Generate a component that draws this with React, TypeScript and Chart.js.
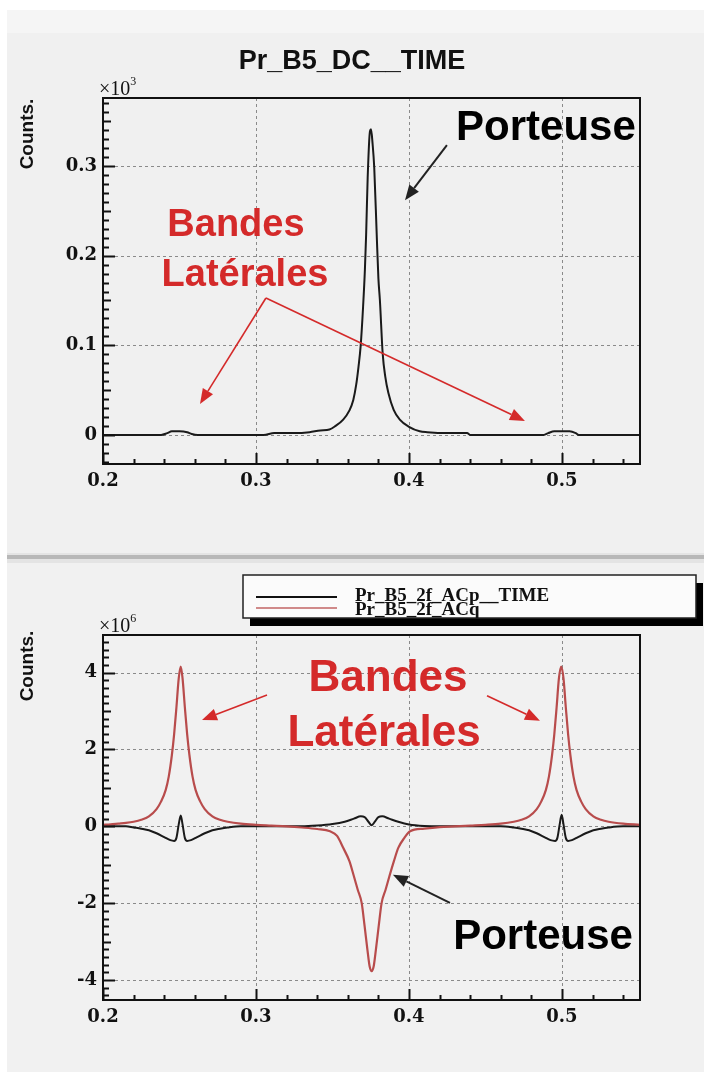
import React, { useEffect, useRef } from 'react';
import { Chart, registerables } from 'chart.js';

Chart.register(...registerables);

// ---------------- data ----------------
// Top panel: Pr_B5_DC__TIME (units of 10^3 counts)
const dcX = [0.200, 0.220, 0.238, 0.242, 0.245, 0.250, 0.255, 0.258, 0.262, 0.280, 0.305, 0.312, 0.325, 0.335, 0.342, 0.348, 0.352, 0.357, 0.361, 0.3636, 0.3655, 0.367, 0.3684, 0.370, 0.3712, 0.372, 0.373, 0.3745, 0.3752, 0.3762, 0.3773, 0.3789, 0.380, 0.381, 0.3828, 0.3845, 0.3865, 0.390, 0.394, 0.400, 0.407, 0.412, 0.425, 0.438, 0.440, 0.488, 0.491, 0.495, 0.500, 0.505, 0.509, 0.511, 0.551];
const dcY = [0, 0, 0, 0.002, 0.004, 0.004, 0.003, 0.001, 0, 0, 0, 0.002, 0.002, 0.003, 0.005, 0.006, 0.010, 0.017, 0.027, 0.039, 0.056, 0.076, 0.099, 0.143, 0.185, 0.224, 0.287, 0.339, 0.341, 0.325, 0.298, 0.224, 0.175, 0.150, 0.091, 0.065, 0.047, 0.028, 0.017, 0.009, 0.004, 0.003, 0.002, 0.002, 0, 0, 0.002, 0.004, 0.004, 0.004, 0.002, 0, 0];

// Bottom panel: Pr_B5_2f_ACp__TIME (black), units of 10^6 counts
const acpX = [0.200, 0.215, 0.220, 0.225, 0.230, 0.235, 0.240, 0.244, 0.2465, 0.248, 0.2495, 0.2508, 0.252, 0.2535, 0.255, 0.2575, 0.2615, 0.2665, 0.2715, 0.2765, 0.2815, 0.290, 0.330, 0.340, 0.350, 0.358, 0.364, 0.3685, 0.371, 0.3735, 0.3756, 0.3777, 0.380, 0.3825, 0.387, 0.393, 0.400, 0.410, 0.420, 0.460, 0.4685, 0.4735, 0.4785, 0.4835, 0.4885, 0.4925, 0.4955, 0.497, 0.4985, 0.4998, 0.501, 0.5025, 0.504, 0.5065, 0.5105, 0.5155, 0.5205, 0.5255, 0.5305, 0.540, 0.551];
const acpY = [0, 0, -0.03, -0.06, -0.10, -0.18, -0.28, -0.36, -0.38, -0.30, 0.05, 0.28, 0.05, -0.30, -0.38, -0.36, -0.28, -0.18, -0.10, -0.06, -0.03, 0, 0, 0.02, 0.06, 0.12, 0.20, 0.26, 0.24, 0.12, 0.03, 0.12, 0.24, 0.26, 0.20, 0.12, 0.05, 0.01, 0, 0, -0.03, -0.06, -0.10, -0.18, -0.28, -0.36, -0.38, -0.30, 0.05, 0.30, 0.05, -0.30, -0.38, -0.36, -0.28, -0.18, -0.10, -0.06, -0.03, 0, 0];

// Bottom panel: Pr_B5_2f_ACq (red), units of 10^6 counts
const acqX = [0.200, 0.205, 0.210, 0.215, 0.220, 0.225, 0.230, 0.235, 0.238, 0.241, 0.243, 0.245, 0.2465, 0.248, 0.2495, 0.2508, 0.252, 0.2535, 0.255, 0.2565, 0.2585, 0.2605, 0.2635, 0.2665, 0.2715, 0.2765, 0.2815, 0.290, 0.300, 0.310, 0.320, 0.330, 0.340, 0.3484, 0.353, 0.357, 0.361, 0.364, 0.3665, 0.3691, 0.371, 0.3728, 0.3743, 0.3756, 0.3769, 0.3784, 0.3802, 0.3821, 0.3847, 0.3872, 0.3902, 0.393, 0.397, 0.4007, 0.410, 0.420, 0.430, 0.440, 0.450, 0.460, 0.4685, 0.4735, 0.4785, 0.4835, 0.4865, 0.4895, 0.4915, 0.4935, 0.495, 0.4965, 0.498, 0.4995, 0.501, 0.5025, 0.504, 0.5055, 0.5075, 0.5095, 0.5125, 0.5155, 0.5205, 0.5255, 0.5305, 0.540, 0.551];
const acqY = [0.04, 0.05, 0.07, 0.09, 0.12, 0.17, 0.26, 0.45, 0.65, 0.95, 1.30, 1.85, 2.40, 3.10, 3.85, 4.16, 3.85, 3.10, 2.40, 1.85, 1.30, 0.95, 0.65, 0.45, 0.26, 0.17, 0.12, 0.07, 0.04, 0.02, 0, -0.03, -0.07, -0.13, -0.25, -0.56, -0.90, -1.30, -1.65, -2.00, -2.60, -3.20, -3.65, -3.77, -3.65, -3.20, -2.60, -2.00, -1.65, -1.30, -0.90, -0.56, -0.30, -0.13, -0.06, -0.02, 0, 0.02, 0.04, 0.07, 0.12, 0.17, 0.26, 0.45, 0.65, 0.95, 1.30, 1.85, 2.40, 3.10, 3.85, 4.16, 3.85, 3.10, 2.40, 1.85, 1.30, 0.95, 0.65, 0.45, 0.26, 0.17, 0.12, 0.07, 0.04];

// axes / ticks
const xTicks = [0.2, 0.3, 0.4, 0.5];
const xTickLabels = ['0.2', '0.3', '0.4', '0.5'];
const topYTicks = [0, 0.1, 0.2, 0.3];
const topYTickLabels = ['0', '0.1', '0.2', '0.3'];
const botYTicks = [-4, -2, 0, 2, 4];
const botYTickLabels = ['-4', '-2', '0', '2', '4'];

// texts
const topTitle = 'Pr_B5_DC__TIME';
const yAxisTitle = 'Counts.';
const topExponent = '3';
const botExponent = '6';
const seriesNames = ['Pr_B5_2f_ACp__TIME', 'Pr_B5_2f_ACq'];
const carrierText = 'Porteuse';
const sidebandLines = ['Bandes', 'Latérales'];

const RED_TEXT = '#d42a2a';
const RED_LINE = '#b84c4c';

type Ann = { text: string; x: number; y: number; color: string; size: number };
type Arr = { x1: number; y1: number; x2: number; y2: number; color: string; lw: number };

const topLabels: Ann[] = [
  { text: carrierText, x: 0.4895, y: 0.342, color: '#000', size: 42 },
  { text: sidebandLines[0], x: 0.2869, y: 0.2342, color: RED_TEXT, size: 38 },
  { text: sidebandLines[1], x: 0.2928, y: 0.1784, color: RED_TEXT, size: 38 },
];
const topArrows: Arr[] = [
  { x1: 0.4248, y1: 0.3234, x2: 0.3974, y2: 0.262, color: '#222', lw: 2 },
  { x1: 0.3065, y1: 0.1528, x2: 0.2634, y2: 0.0346, color: RED_TEXT, lw: 1.6 },
  { x1: 0.3065, y1: 0.1528, x2: 0.4758, y2: 0.0156, color: RED_TEXT, lw: 1.6 },
];
const botLabels: Ann[] = [
  { text: sidebandLines[0], x: 0.3863, y: 3.85, color: RED_TEXT, size: 44 },
  { text: sidebandLines[1], x: 0.3837, y: 2.40, color: RED_TEXT, size: 44 },
  { text: carrierText, x: 0.4876, y: -2.88, color: '#000', size: 42 },
];
const botArrows: Arr[] = [
  { x1: 0.4268, y1: -1.99, x2: 0.3895, y2: -1.26, color: '#222', lw: 2 },
  { x1: 0.3072, y1: 3.42, x2: 0.2647, y2: 2.77, color: RED_TEXT, lw: 1.6 },
  { x1: 0.451, y1: 3.40, x2: 0.4856, y2: 2.75, color: RED_TEXT, lw: 1.6 },
];

function drawArrow(ctx: CanvasRenderingContext2D, x1: number, y1: number, x2: number, y2: number, color: string, lw: number) {
  const ang = Math.atan2(y2 - y1, x2 - x1);
  const headLen = 15;
  const headW = 12;
  const bx = x2 - headLen * Math.cos(ang);
  const by = y2 - headLen * Math.sin(ang);
  ctx.save();
  ctx.strokeStyle = color;
  ctx.fillStyle = color;
  ctx.lineWidth = lw;
  ctx.beginPath();
  ctx.moveTo(x1, y1);
  ctx.lineTo(bx, by);
  ctx.stroke();
  ctx.beginPath();
  ctx.moveTo(x2, y2);
  ctx.lineTo(bx + (headW / 2) * Math.sin(ang), by - (headW / 2) * Math.cos(ang));
  ctx.lineTo(bx - (headW / 2) * Math.sin(ang), by + (headW / 2) * Math.cos(ang));
  ctx.closePath();
  ctx.fill();
  ctx.restore();
}

type DecorCfg = {
  yTicks: number[];
  yMinorStep: number;
  xMinorStep: number;
  labels: Ann[];
  arrows: Arr[];
  exponent: string;
  yTitleCenter: number; // canvas y
  background: (ctx: CanvasRenderingContext2D, w: number, h: number) => void;
  extra: (ctx: CanvasRenderingContext2D) => void;
};

function makeDecor(cfg: DecorCfg) {
  return {
    id: 'decor',
    beforeDraw(chart: any) {
      const ctx = chart.ctx as CanvasRenderingContext2D;
      ctx.save();
      cfg.background(ctx, chart.width, chart.height);
      ctx.restore();
    },
    beforeDatasetsDraw(chart: any) {
      const ctx = chart.ctx as CanvasRenderingContext2D;
      const { left, right, top, bottom } = chart.chartArea;
      const xs = chart.scales.x;
      const ys = chart.scales.y;
      ctx.save();
      ctx.strokeStyle = '#8a8a8a';
      ctx.lineWidth = 1;
      ctx.setLineDash([3, 3]);
      xTicks.forEach((v) => {
        const px = Math.round(xs.getPixelForValue(v)) + 0.5;
        if (px <= left + 2) return;
        ctx.beginPath();
        ctx.moveTo(px, top);
        ctx.lineTo(px, bottom);
        ctx.stroke();
      });
      cfg.yTicks.forEach((v) => {
        const py = Math.round(ys.getPixelForValue(v)) + 0.5;
        ctx.beginPath();
        ctx.moveTo(left, py);
        ctx.lineTo(right, py);
        ctx.stroke();
      });
      ctx.restore();
    },
    afterDatasetsDraw(chart: any) {
      const ctx = chart.ctx as CanvasRenderingContext2D;
      const { left, right, top, bottom } = chart.chartArea;
      const xs = chart.scales.x;
      const ys = chart.scales.y;
      ctx.save();
      ctx.strokeStyle = '#111';
      ctx.lineWidth = 2;
      ctx.strokeRect(left, top, right - left, bottom - top);
      // inward ticks on x axis
      ctx.lineWidth = 2;
      const xMin = xs.min, xMax = xs.max;
      for (let i = 0; ; i++) {
        const v = 0.2 + i * cfg.xMinorStep;
        if (v > xMax + 1e-9) break;
        if (v < xMin - 1e-9) continue;
        const major = xTicks.some((t) => Math.abs(t - v) < 1e-6);
        const px = Math.round(xs.getPixelForValue(v)) + 0.5;
        ctx.beginPath();
        ctx.moveTo(px, bottom);
        ctx.lineTo(px, bottom - (major ? 11 : 5));
        ctx.stroke();
      }
      // inward ticks on y axis
      const yMin = ys.min, yMax = ys.max;
      const start = Math.ceil(yMin / cfg.yMinorStep - 1e-6);
      for (let i = start; ; i++) {
        const v = i * cfg.yMinorStep;
        if (v > yMax + 1e-9) break;
        const major = cfg.yTicks.some((t) => Math.abs(t - v) < 1e-6);
        const half = Math.abs(i % 5) === 0 && !major;
        const py = Math.round(ys.getPixelForValue(v)) + 0.5;
        ctx.beginPath();
        ctx.moveTo(left, py);
        ctx.lineTo(left + (major ? 12 : half ? 8 : 6), py);
        ctx.stroke();
      }
      ctx.restore();

      // annotations
      ctx.save();
      ctx.textAlign = 'center';
      ctx.textBaseline = 'middle';
      cfg.labels.forEach((a) => {
        ctx.fillStyle = a.color;
        ctx.font = `bold ${a.size}px "Liberation Sans", Arial, sans-serif`;
        ctx.fillText(a.text, xs.getPixelForValue(a.x), ys.getPixelForValue(a.y));
      });
      ctx.restore();
      cfg.arrows.forEach((a) => {
        drawArrow(ctx, xs.getPixelForValue(a.x1), ys.getPixelForValue(a.y1), xs.getPixelForValue(a.x2), ys.getPixelForValue(a.y2), a.color, a.lw);
      });
    },
    afterDraw(chart: any) {
      const ctx = chart.ctx as CanvasRenderingContext2D;
      const { left, top } = chart.chartArea;
      ctx.save();
      // exponent
      ctx.fillStyle = '#111';
      ctx.textBaseline = 'alphabetic';
      ctx.textAlign = 'left';
      ctx.font = '20px "Liberation Serif", serif';
      ctx.fillText('×10', left - 4, top - 3);
      const w = ctx.measureText('×10').width;
      ctx.font = '12px "Liberation Serif", serif';
      ctx.fillText(cfg.exponent, left - 4 + w, top - 13);
      // y axis title
      ctx.translate(28, cfg.yTitleCenter);
      ctx.rotate(-Math.PI / 2);
      ctx.textAlign = 'center';
      ctx.textBaseline = 'middle';
      ctx.font = 'bold 19px "Liberation Sans", Arial, sans-serif';
      ctx.fillText(yAxisTitle, 0, 0);
      ctx.restore();
      ctx.save();
      cfg.extra(ctx);
      ctx.restore();
    },
  };
}

function baseOptions(yMin: number, yMax: number, yTicks: number[], yLabels: string[], padding: any) {
  return {
    animation: false as const,
    responsive: false,
    devicePixelRatio: 1,
    layout: { padding },
    plugins: { legend: { display: false }, tooltip: { enabled: false }, title: { display: false } },
    elements: { point: { radius: 0 } },
    scales: {
      x: {
        type: 'linear' as const,
        min: 0.2,
        max: 0.551,
        grid: { display: false, drawTicks: false },
        border: { display: false },
        afterBuildTicks: (scale: any) => {
          scale.ticks = xTicks.map((v) => ({ value: v }));
        },
        afterFit: (scale: any) => {
          scale.height = 30;
        },
        ticks: {
          autoSkip: false,
          maxRotation: 0,
          padding: 7,
          color: '#111',
          font: { family: '"DejaVu Serif", serif', weight: 'bold' as const, size: 18 },
          callback: (v: any) => {
            const i = xTicks.findIndex((t) => Math.abs(t - v) < 1e-9);
            return i >= 0 ? xTickLabels[i] : '';
          },
        },
      },
      y: {
        type: 'linear' as const,
        min: yMin,
        max: yMax,
        grid: { display: false, drawTicks: false },
        border: { display: false },
        afterBuildTicks: (scale: any) => {
          scale.ticks = yTicks.map((v) => ({ value: v }));
        },
        afterFit: (scale: any) => {
          scale.width = 50;
        },
        ticks: {
          autoSkip: false,
          padding: 6,
          color: '#111',
          font: { family: '"DejaVu Serif", serif', weight: 'bold' as const, size: 18 },
          callback: (v: any) => {
            const i = yTicks.findIndex((t) => Math.abs(t - v) < 1e-9);
            return i >= 0 ? yLabels[i] : '';
          },
        },
      },
    },
  };
}

function toPts(xs: number[], ys: number[]) {
  return xs.map((x, i) => ({ x, y: ys[i] }));
}

const TOP_H = 553;
const BOT_H = 519;

export default function App() {
  const topRef = useRef<HTMLCanvasElement>(null);
  const botRef = useRef<HTMLCanvasElement>(null);

  useEffect(() => {
    const topDecor = makeDecor({
      yTicks: topYTicks,
      yMinorStep: 0.01,
      xMinorStep: 0.02,
      labels: topLabels,
      arrows: topArrows,
      exponent: topExponent,
      yTitleCenter: 134,
      background: (ctx, w, h) => {
        ctx.fillStyle = '#ffffff';
        ctx.fillRect(0, 0, w, h);
        ctx.fillStyle = '#f0f0f0';
        ctx.fillRect(7, 10, w - 7, h - 10);
        ctx.fillStyle = '#f5f5f5';
        ctx.fillRect(7, 10, w - 7, 23);
      },
      extra: (ctx) => {
        ctx.fillStyle = '#111';
        ctx.textAlign = 'center';
        ctx.textBaseline = 'middle';
        ctx.font = 'bold 27px "Liberation Sans", Arial, sans-serif';
        ctx.fillText(topTitle, 352, 62);
      },
    });
    const topChart = new Chart(topRef.current as HTMLCanvasElement, {
      type: 'line',
      data: {
        datasets: [
          {
            label: topTitle,
            data: toPts(dcX, dcY),
            borderColor: '#1a1a1a',
            borderWidth: 2,
            pointRadius: 0,
            cubicInterpolationMode: 'monotone',
            fill: false,
          },
        ],
      },
      options: baseOptions(-0.0325, 0.376, topYTicks, topYTickLabels, { top: 98, left: 53, right: 64, bottom: TOP_H - 464 - 30 }) as any,
      plugins: [topDecor as any],
    });

    const botDecor = makeDecor({
      yTicks: botYTicks,
      yMinorStep: 0.2,
      xMinorStep: 0.02,
      labels: botLabels,
      arrows: botArrows,
      exponent: botExponent,
      yTitleCenter: 666 - 553,
      background: (ctx, w, h) => {
        ctx.fillStyle = '#ffffff';
        ctx.fillRect(0, 0, w, h);
        ctx.fillStyle = '#e4e4e4';
        ctx.fillRect(7, 0, w - 7, 10);
        ctx.fillStyle = '#b8b8b8';
        ctx.fillRect(7, 2, w - 7, 4);
        ctx.fillStyle = '#f1f1f1';
        ctx.fillRect(7, 10, w - 7, h - 10);
      },
      extra: (ctx) => {
        // legend box with shadow
        const bx = 243, by = 22, bw = 453, bh = 43;
        ctx.fillStyle = '#000';
        ctx.fillRect(bx + 7, by + 8, bw, bh);
        ctx.fillStyle = '#fbfbfb';
        ctx.fillRect(bx, by, bw, bh);
        ctx.strokeStyle = '#222';
        ctx.lineWidth = 1.5;
        ctx.strokeRect(bx, by, bw, bh);
        ctx.lineWidth = 2;
        ctx.strokeStyle = '#111';
        ctx.beginPath();
        ctx.moveTo(256, 44);
        ctx.lineTo(337, 44);
        ctx.stroke();
        ctx.strokeStyle = '#d08a8a';
        ctx.beginPath();
        ctx.moveTo(256, 55);
        ctx.lineTo(337, 55);
        ctx.stroke();
        ctx.save();
        ctx.beginPath();
        ctx.rect(bx, by, bw, bh);
        ctx.clip();
        ctx.fillStyle = '#111';
        ctx.textAlign = 'left';
        ctx.textBaseline = 'alphabetic';
        ctx.font = 'bold 19px "Liberation Serif", serif';
        ctx.fillText(seriesNames[0], 355, 48);
        ctx.fillText(seriesNames[1], 355, 62);
        ctx.restore();
      },
    });
    const botChart = new Chart(botRef.current as HTMLCanvasElement, {
      type: 'line',
      data: {
        datasets: [
          {
            label: seriesNames[0],
            data: toPts(acpX, acpY),
            borderColor: '#1a1a1a',
            borderWidth: 2,
            pointRadius: 0,
            cubicInterpolationMode: 'monotone',
            fill: false,
            order: 1,
          },
          {
            label: seriesNames[1],
            data: toPts(acqX, acqY),
            borderColor: RED_LINE,
            borderWidth: 2.2,
            pointRadius: 0,
            cubicInterpolationMode: 'monotone',
            fill: false,
            order: 0,
          },
        ],
      },
      options: baseOptions(-4.52, 4.98, botYTicks, botYTickLabels, { top: 82, left: 53, right: 64, bottom: BOT_H - 447 - 30 }) as any,
      plugins: [botDecor as any],
    });

    return () => {
      topChart.destroy();
      botChart.destroy();
    };
  }, []);

  return (
    <div style={{ position: 'absolute', left: 0, top: 0, width: 704, height: 1072, background: '#fff', overflow: 'hidden' }}>
      <canvas ref={topRef} width={704} height={TOP_H} style={{ position: 'absolute', left: 0, top: 0, width: 704, height: TOP_H }} />
      <canvas ref={botRef} width={704} height={BOT_H} style={{ position: 'absolute', left: 0, top: TOP_H, width: 704, height: BOT_H }} />
    </div>
  );
}
